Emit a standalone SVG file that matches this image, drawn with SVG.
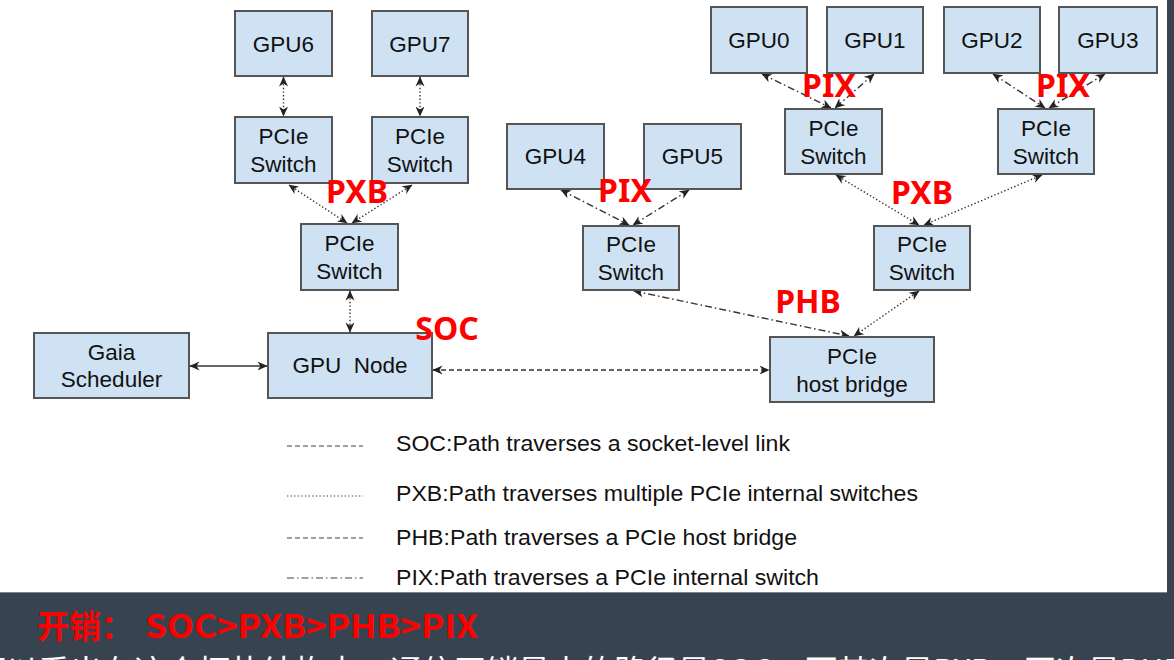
<svg xmlns="http://www.w3.org/2000/svg" width="1174" height="660" viewBox="0 0 1174 660">
<defs>
<marker id="arr" viewBox="0 0 10 10" refX="9.5" refY="5" markerWidth="10" markerHeight="10" markerUnits="userSpaceOnUse" orient="auto-start-reverse">
<path d="M0,0.5 L10,5 L0,9.5 L3,5 z" fill="#222"/>
</marker>
<style>
.box{fill:#cfe2f3;stroke:#555;stroke-width:2}
.t{font-family:"Liberation Sans",Arial,sans-serif;font-size:22.5px;fill:#111;text-anchor:middle}
.lg{font-family:"Liberation Sans",Arial,sans-serif;font-size:22.6px;fill:#111}
.red{font-family:"Noto Sans","Liberation Sans",sans-serif;font-weight:bold;font-size:32px;fill:#ff0000;text-anchor:middle}
.c{fill:none;stroke:#333;stroke-width:1.4;marker-start:url(#arr);marker-end:url(#arr)}
.solid{}
.soc{stroke-dasharray:5 3}
.pxb{stroke-dasharray:1.4 2.2}
.phb{stroke-dasharray:5 3}
.pix{stroke-dasharray:7 3 1.5 3}
.ln{fill:none;stroke:#444;stroke-width:1.2}
</style>
</defs>
<rect x="0" y="0" width="1174" height="660" fill="#ffffff"/>

<g id="connectors">
<line class="c pxb" x1="283.5" y1="77" x2="283.5" y2="116"/>
<line class="c pxb" x1="420" y1="77" x2="420" y2="116"/>
<line class="c pxb" x1="289" y1="185" x2="347" y2="223"/>
<line class="c pxb" x1="412" y1="185" x2="352" y2="223"/>
<line class="c pxb" x1="350" y1="291" x2="350" y2="332"/>
<line class="c solid" x1="190" y1="366" x2="267" y2="366"/>
<line class="c soc" x1="433" y1="370" x2="769" y2="370"/>
<line class="c pix" x1="561" y1="190" x2="629" y2="225"/>
<line class="c pix" x1="689" y1="190" x2="633" y2="225"/>
<line class="c pix" x1="762" y1="74" x2="831" y2="108"/>
<line class="c pix" x1="874" y1="74" x2="835" y2="108"/>
<line class="c pix" x1="993" y1="74" x2="1045" y2="108"/>
<line class="c pix" x1="1105" y1="74" x2="1049" y2="108"/>
<line class="c pxb" x1="836" y1="175" x2="919" y2="225"/>
<line class="c pxb" x1="1042" y1="175" x2="924" y2="225"/>
<line class="c pix" x1="634" y1="291" x2="849" y2="336"/>
<line class="c pxb" x1="919" y1="291" x2="854" y2="336"/>
</g>

<g id="gpu6"><rect class="box" x="235" y="11" width="97" height="65"/><text class="t" x="283.5" y="51.5">GPU6</text></g>
<g id="gpu7"><rect class="box" x="372" y="11" width="96" height="65"/><text class="t" x="420" y="51.5">GPU7</text></g>
<g id="sw6"><rect class="box" x="235" y="117" width="97" height="66"/><text class="t" x="283.5" y="144">PCIe</text><text class="t" x="283.5" y="172">Switch</text></g>
<g id="sw7"><rect class="box" x="372" y="117" width="96" height="66"/><text class="t" x="420" y="144">PCIe</text><text class="t" x="420" y="172">Switch</text></g>
<g id="swmid"><rect class="box" x="301" y="224" width="97" height="66"/><text class="t" x="349.5" y="251">PCIe</text><text class="t" x="349.5" y="279">Switch</text></g>
<g id="gaia"><rect class="box" x="34" y="333" width="155" height="65"/><text class="t" x="111.5" y="360">Gaia</text><text class="t" x="111.5" y="387">Scheduler</text></g>
<g id="gpunode"><rect class="box" x="268" y="333" width="164" height="65"/><text class="t" x="350" y="373" xml:space="preserve">GPU  Node</text></g>
<g id="gpu4"><rect class="box" x="507" y="124" width="97" height="65"/><text class="t" x="555.5" y="164">GPU4</text></g>
<g id="gpu5"><rect class="box" x="644" y="124" width="97" height="65"/><text class="t" x="692.5" y="164">GPU5</text></g>
<g id="sw45"><rect class="box" x="583" y="226" width="96" height="64"/><text class="t" x="631" y="252">PCIe</text><text class="t" x="631" y="280">Switch</text></g>
<g id="gpu0"><rect class="box" x="711" y="7" width="96" height="66"/><text class="t" x="759" y="48">GPU0</text></g>
<g id="gpu1"><rect class="box" x="827" y="7" width="96" height="66"/><text class="t" x="875" y="48">GPU1</text></g>
<g id="gpu2"><rect class="box" x="944" y="7" width="96" height="66"/><text class="t" x="992" y="48">GPU2</text></g>
<g id="gpu3"><rect class="box" x="1059" y="7" width="98" height="66"/><text class="t" x="1108" y="48">GPU3</text></g>
<g id="sw01"><rect class="box" x="785" y="109" width="97" height="65"/><text class="t" x="833.5" y="136">PCIe</text><text class="t" x="833.5" y="164">Switch</text></g>
<g id="sw23"><rect class="box" x="998" y="109" width="96" height="65"/><text class="t" x="1046" y="136">PCIe</text><text class="t" x="1046" y="164">Switch</text></g>
<g id="swright"><rect class="box" x="874" y="226" width="96" height="64"/><text class="t" x="922" y="252">PCIe</text><text class="t" x="922" y="280">Switch</text></g>
<g id="hostbridge"><rect class="box" x="770" y="337" width="164" height="65"/><text class="t" x="852" y="364">PCIe</text><text class="t" x="852" y="392">host bridge</text></g>

<g id="labels">
<text class="red" x="357" y="203">PXB</text>
<text class="red" x="829" y="97">PIX</text>
<text class="red" x="1063" y="97">PIX</text>
<text class="red" x="625" y="202">PIX</text>
<text class="red" x="922" y="204">PXB</text>
<text class="red" x="808" y="313">PHB</text>
<text class="red" x="447" y="340">SOC</text>
</g>

<g id="legend">
<line class="ln soc" x1="287" y1="446" x2="363" y2="446"/>
<text class="lg" x="396" y="451" textLength="394" lengthAdjust="spacingAndGlyphs">SOC:Path traverses a socket-level link</text>
<line class="ln pxb" x1="287" y1="496" x2="363" y2="496"/>
<text class="lg" x="396" y="501" textLength="522" lengthAdjust="spacingAndGlyphs">PXB:Path traverses multiple PCIe internal switches</text>
<line class="ln phb" x1="287" y1="538" x2="363" y2="538"/>
<text class="lg" x="396" y="545" textLength="401" lengthAdjust="spacingAndGlyphs">PHB:Path traverses a PCIe host bridge</text>
<line class="ln pix" x1="287" y1="578" x2="363" y2="578"/>
<text class="lg" x="396" y="585" textLength="423" lengthAdjust="spacingAndGlyphs">PIX:Path traverses a PCIe internal switch</text>
</g>

<g id="panel">
<rect x="1167" y="0" width="7" height="660" fill="#37434e"/>
<rect x="0" y="592" width="1174" height="68" fill="#37434e"/>
<line x1="0" y1="592.5" x2="1167" y2="592.5" stroke="#7d8690" stroke-width="1"/>
<text x="37" y="638" font-family="'Noto Sans CJK SC',sans-serif" font-weight="bold" font-size="32" fill="#ff0000">开销：<tspan x="145" textLength="333" lengthAdjust="spacingAndGlyphs">SOC&gt;PXB&gt;PHB&gt;PIX</tspan></text>
<text x="-26" y="683" font-family="'Noto Sans CJK SC',sans-serif" font-size="32" fill="#ffffff">可以看出在这个拓扑结构中，通信开销最大的路径是SOC，而其次是PXB，再次是PHB，最小的是PIX</text>
</g>
</svg>
